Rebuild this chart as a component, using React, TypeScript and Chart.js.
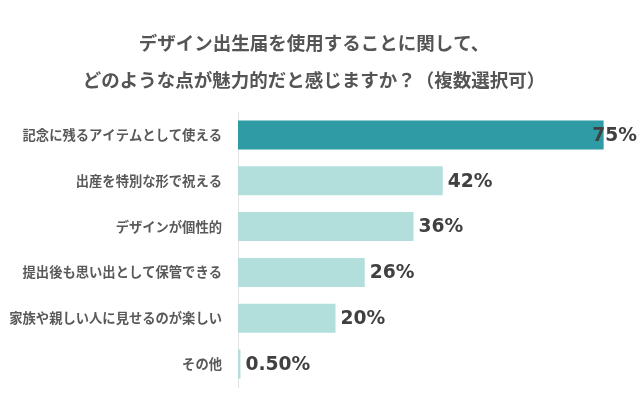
import React, { useEffect, useRef } from "react";
import { Chart, registerables } from "chart.js";

Chart.register(...registerables);

const titleLines = [
  "デザイン出生届を使用することに関して、",
  "どのような点が魅力的だと感じますか？（複数選択可）",
];
const categories = [
  "記念に残るアイテムとして使える",
  "出産を特別な形で祝える",
  "デザインが個性的",
  "提出後も思い出として保管できる",
  "家族や親しい人に見せるのが楽しい",
  "その他",
];
const values = [75, 42, 36, 26, 20, 0.5];
const valueLabels = ["75%", "42%", "36%", "26%", "20%", "0.50%"];
const barColors = ["#2f9ba5", "#b2dfdc", "#b2dfdc", "#b2dfdc", "#b2dfdc", "#b2dfdc"];

const JP = "'Noto Sans CJK JP', 'Noto Sans', sans-serif";

const valueLabelPlugin = {
  id: "valueLabels",
  afterDatasetsDraw(chart: any) {
    const ctx = chart.ctx;
    const meta = chart.getDatasetMeta(0);
    ctx.save();
    ctx.font = "bold 18.7px 'DejaVu Sans', sans-serif";
    ctx.fillStyle = "#404040";
    ctx.textBaseline = "middle";
    ctx.textAlign = "left";
    meta.data.forEach((bar: any, i: number) => {
      const text = valueLabels[i];
      const w = ctx.measureText(text).width;
      const x = Math.min(bar.x + 5, chart.width - w - 3);
      ctx.fillText(text, x, bar.y + 1);
    });
    ctx.restore();
  },
};

export default function App() {
  const ref = useRef<HTMLCanvasElement>(null);
  useEffect(() => {
    if (!ref.current) return;
    const chart = new Chart(ref.current, {
      type: "bar",
      data: {
        labels: categories,
        datasets: [
          {
            data: values,
            backgroundColor: barColors,
            borderWidth: 0,
            barPercentage: 0.633,
            categoryPercentage: 1,
          },
        ],
      },
      options: {
        indexAxis: "y",
        animation: false,
        responsive: false,
        maintainAspectRatio: false,
        layout: { padding: { left: 0, right: 12, top: 0, bottom: 10 } },
        plugins: {
          legend: { display: false },
          tooltip: { enabled: false },
          title: {
            display: true,
            text: titleLines,
            color: "#555555",
            font: { family: JP, size: 18.5, weight: "bold", lineHeight: 2 },
            padding: { top: 24.5, bottom: 13.5 },
          },
        },
        scales: {
          x: {
            display: false,
            min: 0,
            max: 80,
          },
          y: {
            afterFit: (s: any) => {
              s.width = 238;
              s.paddingTop = 0;
              s.paddingBottom = 0;
            },
            grid: { display: false, drawTicks: false },
            border: { display: true, color: "#e3e3e3", width: 1 },
            ticks: {
              padding: 16,
              color: "#595959",
              font: { family: JP, size: 13.3, weight: "bold" },
            },
          },
        },
      },
      plugins: [valueLabelPlugin],
    } as any);
    return () => chart.destroy();
  }, []);
  return (
    <div style={{ position: "fixed", left: 0, top: 0, width: 640, height: 397, background: "#fff" }}>
      <canvas ref={ref} width={640} height={397} />
    </div>
  );
}
